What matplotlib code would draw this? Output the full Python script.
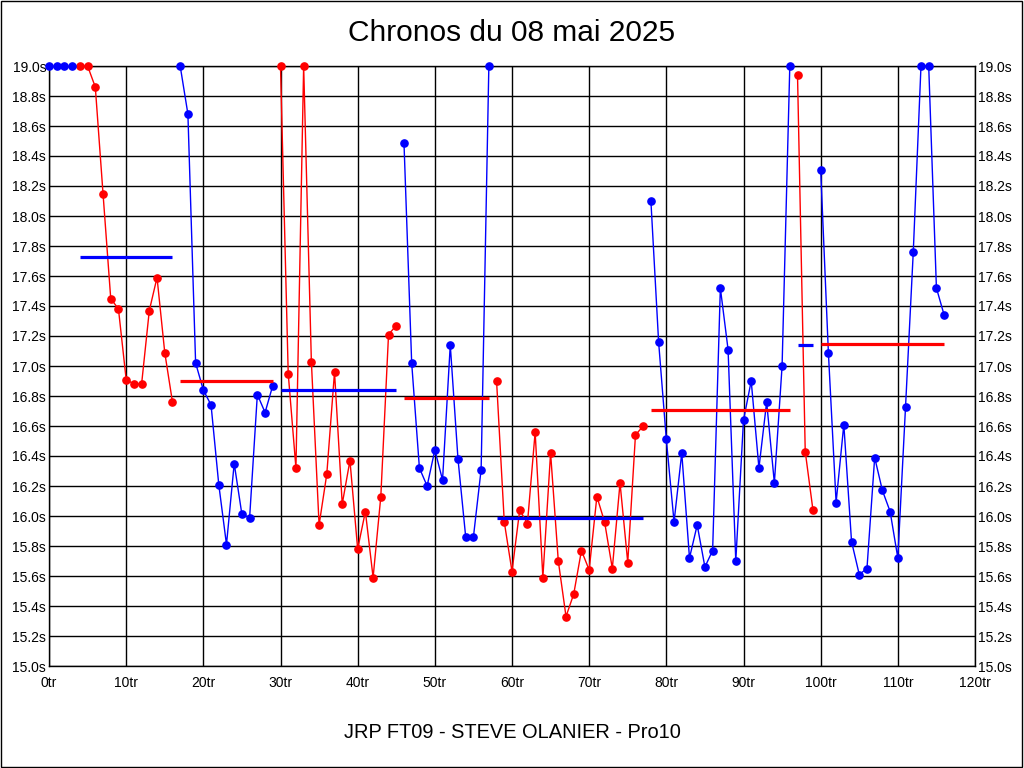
import matplotlib
matplotlib.use("Agg")
import matplotlib.pyplot as plt
import numpy as np
from matplotlib.ticker import MultipleLocator, FuncFormatter
from matplotlib.patches import Rectangle

title = "Chronos du 08 mai 2025"
subtitle = "JRP FT09 - STEVE OLANIER - Pro10"

# out laps (drawn as blue markers, clamped at 19.0)
out_laps = [0, 1, 2, 3]
out_times = [19.0, 19.0, 19.0, 19.0]

# stints: first lap, point colour, lap times, mean value
stint_first_lap = [4, 17, 30, 46, 58, 78, 97, 100]
stint_colors = ["red", "blue", "red", "blue", "red", "blue", "red", "blue"]
stint1 = [19.0, 19.0, 18.86, 18.15, 17.45, 17.38, 16.91, 16.88, 16.88, 17.37, 17.59, 17.09, 16.76]
stint2 = [19.0, 18.68, 17.02, 16.84, 16.74, 16.21, 15.81, 16.35, 16.01, 15.99, 16.81, 16.69, 16.87]
stint3 = [19.0, 16.95, 16.32, 19.0, 17.03, 15.94, 16.28, 16.96, 16.08, 16.37, 15.78, 16.03, 15.59, 16.13, 17.21, 17.27]
stint4 = [18.49, 17.02, 16.32, 16.20, 16.44, 16.24, 17.14, 16.38, 15.86, 15.86, 16.31, 19.0]
stint5 = [16.90, 15.96, 15.63, 16.04, 15.95, 16.56, 15.59, 16.42, 15.70, 15.33, 15.48, 15.77,
          15.64, 16.13, 15.96, 15.65, 16.22, 15.69, 16.54, 16.60]
stint6 = [18.10, 17.16, 16.51, 15.96, 16.42, 15.72, 15.94, 15.66, 15.77, 17.52, 17.11, 15.70,
          16.64, 16.90, 16.32, 16.76, 16.22, 17.00, 19.0]
stint7 = [18.94, 16.43, 16.04]
stint8 = [18.31, 17.09, 16.09, 16.61, 15.83, 15.61, 15.65, 16.39, 16.17, 16.03, 15.72, 16.73,
          17.76, 19.0, 19.0, 17.52, 17.34]
stint_times = [stint1, stint2, stint3, stint4, stint5, stint6, stint7, stint8]
stint_means = [17.73, 16.90, 16.84, 16.79, 15.99, 16.71, 17.14, 17.15]

RED = "#ff0000"
BLUE = "#0000ff"
cmap = {"red": RED, "blue": BLUE}
other = {"red": BLUE, "blue": RED}

plt.rcParams["font.family"] = ["Liberation Sans", "DejaVu Sans"]

fig = plt.figure(figsize=(10.24, 7.68), dpi=100)
ax = fig.add_axes([49 / 1024, 1 - 666 / 768, (975 - 49) / 1024, (666 - 66) / 768])

# red line from the out laps into first stint
ax.plot([out_laps[0], out_laps[-1], stint_first_lap[0]], [out_times[0], out_times[-1], stint1[0]],
        color=RED, lw=1.0, zorder=3, clip_on=False)

for first, col, times, mean in zip(stint_first_lap, stint_colors, stint_times, stint_means):
    x = first + np.arange(len(times))
    ax.plot(x, times, color=cmap[col], lw=1.0, marker="o", ms=5.2, mec=cmap[col], mfc=cmap[col],
            zorder=4, clip_on=False)
    ax.plot([x[0], x[-1]], [mean, mean], color=other[col], lw=2.3, zorder=5,
            solid_capstyle="butt")

ax.plot(out_laps, out_times, ls="none", marker="o", ms=5.2, color=BLUE, zorder=6, clip_on=False)

ax.set_xlim(0, 120)
ax.set_ylim(15.0, 19.0)
ax.xaxis.set_major_locator(MultipleLocator(10))
ax.yaxis.set_major_locator(MultipleLocator(0.2))
ax.xaxis.set_major_formatter(FuncFormatter(lambda v, p: f"{int(round(v))}tr"))
ax.yaxis.set_major_formatter(FuncFormatter(lambda v, p: f"{v:.1f}s"))
ax.grid(True, color="black", lw=1.0)
ax.set_axisbelow(True)
ax.tick_params(axis="both", length=0, labelsize=10, colors="black")
ax.tick_params(axis="y", pad=2, labelright=True, right=False)
ax.tick_params(axis="x", pad=7)
for s in ax.spines.values():
    s.set_color("black")
    s.set_linewidth(1.0)

fig.text(0.5, 1 - 33 / 768, title, ha="center", va="center", fontsize=21.5)
fig.text(0.5, 1 - 733 / 768, subtitle, ha="center", va="center", fontsize=14.4)

fig.patches.append(Rectangle((0.0005, 0.0007), 0.998, 0.998, transform=fig.transFigure,
                             fill=False, edgecolor="black", lw=1.0))

fig.savefig("out.png", dpi=100, facecolor="white")
